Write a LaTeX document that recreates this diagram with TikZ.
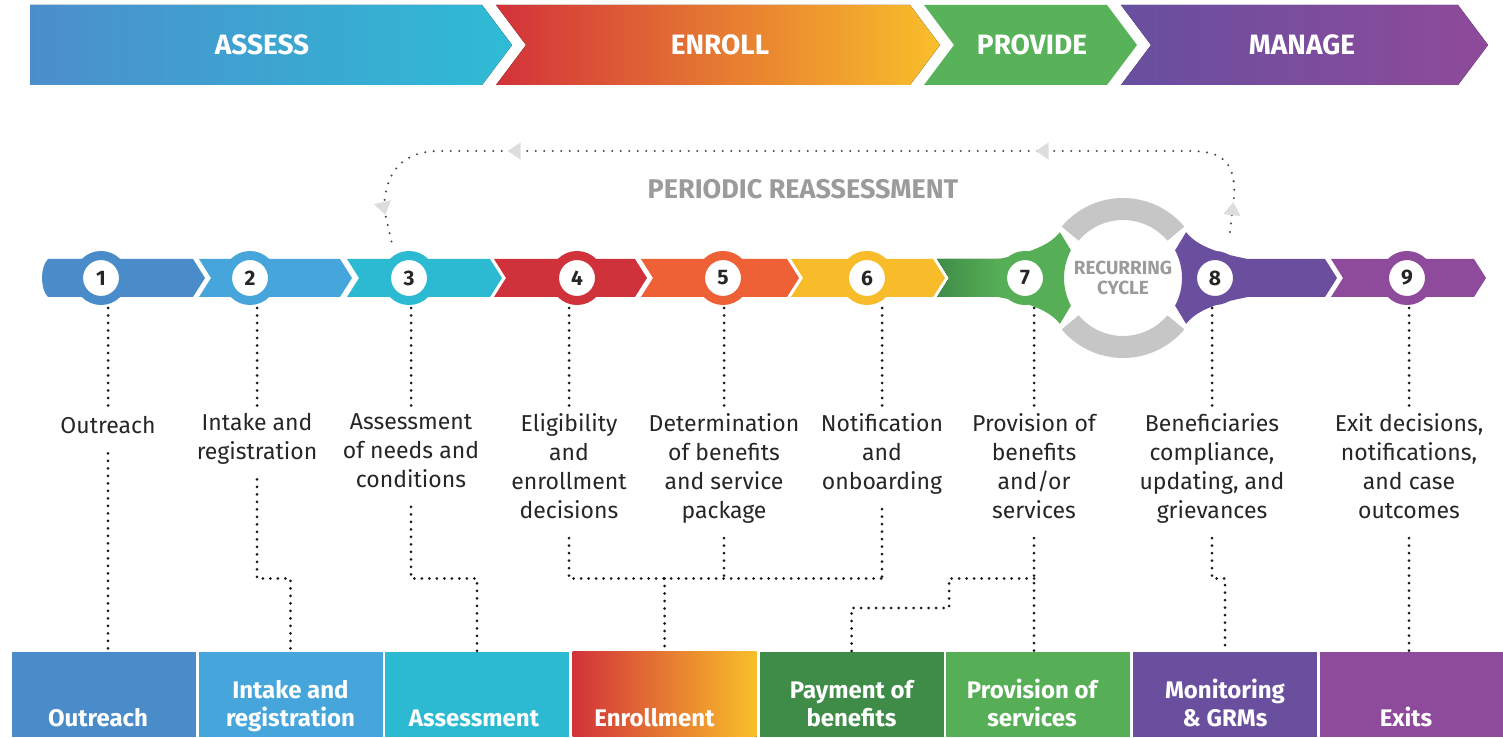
\documentclass[tikz,border=0pt]{standalone}
\usepackage{fontspec}
\setmainfont{Fira Sans}
\usetikzlibrary{calc,arrows.meta,decorations.markings}

\definecolor{assessl}{HTML}{4C8ECC}
\definecolor{assessr}{HTML}{2EBBD5}
\definecolor{enrollr}{HTML}{D2323A}
\definecolor{enrollo}{HTML}{EF7433}
\definecolor{enrolly}{HTML}{F9BF2A}
\definecolor{providec}{HTML}{58B25A}
\definecolor{managel}{HTML}{684F9F}
\definecolor{manager}{HTML}{8F4A9A}
\definecolor{stepone}{HTML}{4A8CCA}
\definecolor{steptwo}{HTML}{46A5DB}
\definecolor{stepthree}{HTML}{2CBAD3}
\definecolor{stepfour}{HTML}{CF323B}
\definecolor{stepfive}{HTML}{EE6035}
\definecolor{stepsix}{HTML}{F8BC2B}
\definecolor{stepsevenl}{HTML}{3F8D48}
\definecolor{stepseven}{HTML}{56AF56}
\definecolor{stepeight}{HTML}{6A4F9E}
\definecolor{stepnine}{HTML}{8E4A9B}
\definecolor{paydark}{HTML}{3F8C49}
\definecolor{cyclegray}{HTML}{C6C6C6}
\definecolor{textgray}{HTML}{9B9B9B}
\definecolor{tipgray}{HTML}{DDDDDD}
\definecolor{inkdark}{HTML}{262626}

\tikzset{
  phase/.style={font=\fontsize{28}{30}\selectfont\bfseries, text=white},
  stepring/.style={circle, fill=white, draw=#1, line width=9pt, minimum size=45pt,
    inner sep=0pt, font=\fontsize{21}{21}\selectfont\bfseries, text=inkdark},
  steplabel/.style={anchor=north, align=center, inner sep=0pt,
    font=\fontsize{23}{29}\selectfont, text=inkdark,
    execute at begin node=\strut, execute at end node=\strut},
  bottombox/.style={anchor=south, minimum width=184pt, minimum height=85pt,
    inner sep=0pt, fill=#1},
  boxtext/.style={anchor=south, align=center, inner sep=0pt,
    font=\fontsize{24}{28}\selectfont\bfseries, text=white,
    execute at end node=\strut},
  leader/.style={draw=black!90, line width=3pt, line cap=round,
    dash pattern=on 0pt off 7.5pt},
  loopline/.style={draw=black!70, line width=2.3pt, line cap=round,
    dash pattern=on 0pt off 8.5pt},
}

\begin{document}
\begin{tikzpicture}[x=1pt,y=1pt]
\useasboundingbox (0,0) rectangle (1503,737);

\def\bandtop{478}
\def\bandbot{440}
\def\bandmid{459}

% phases on top
\fill[left color=assessl, right color=assessr]
	(30,652) -- (482,652) -- (512,692) -- (482,732) -- (30,732) -- cycle;
\fill[left color=enrollr, middle color=enrollo, right color=enrolly]
	(496,652) -- (910,652) -- (940,692) -- (910,732) -- (496,732) -- (526,692) -- cycle;
\fill[providec]
	(924,652) -- (1107,652) -- (1137,692) -- (1107,732) -- (924,732) -- (954,692) -- cycle;
\fill[left color=managel, right color=manager]
	(1121,652) -- (1458,652) -- (1488,692) -- (1458,732) -- (1121,732) -- (1151,692) -- cycle;

\node[phase] (assess) at (262,692) {ASSESS};
\node[phase] (enroll) at (720,692) {ENROLL};
\node[phase] (provide) at (1032,692) {PROVIDE};
\node[phase] (manage) at (1302,692) {MANAGE};

% recurring cycle
\coordinate (C) at (1123,\bandmid);
\fill[cyclegray] ($(C)+(40:80)$) arc[start angle=40, end angle=140, radius=80]
	-- ($(C)+(140:58)$) arc[start angle=140, end angle=40, radius=58] -- cycle;
\fill[cyclegray] ($(C)+(220:80)$) arc[start angle=220, end angle=320, radius=80]
	-- ($(C)+(320:58)$) arc[start angle=320, end angle=220, radius=58] -- cycle;

% band of steps
\fill[stepone] (48,\bandbot) .. controls (40,448) and (40,470) .. (48,\bandtop)
	-- (193,\bandtop) -- (205,\bandmid) -- (193,\bandbot) -- cycle;
\fill[steptwo] (199,\bandbot) -- (211,\bandmid) -- (199,\bandtop)
	-- (340,\bandtop) -- (352,\bandmid) -- (340,\bandbot) -- cycle;
\fill[stepthree] (347,\bandbot) -- (359,\bandmid) -- (347,\bandtop)
	-- (490,\bandtop) -- (502,\bandmid) -- (490,\bandbot) -- cycle;
\fill[stepfour] (494,\bandbot) -- (506,\bandmid) -- (494,\bandtop)
	-- (635,\bandtop) -- (647,\bandmid) -- (635,\bandbot) -- cycle;
\fill[stepfive] (641,\bandbot) -- (653,\bandmid) -- (641,\bandtop)
	-- (787,\bandtop) -- (799,\bandmid) -- (787,\bandbot) -- cycle;
\fill[stepsix] (791,\bandbot) -- (803,\bandmid) -- (791,\bandtop)
	-- (933,\bandtop) -- (945,\bandmid) -- (933,\bandbot) -- cycle;
\fill[left color=stepsevenl, right color=stepseven]
	(937,\bandbot) -- (949,\bandmid) -- (937,\bandtop)
	-- (1000,\bandtop) -- (1000,\bandbot) -- cycle;
\fill[stepseven] (998,\bandtop) .. controls (1030,484) and (1050,492) .. ($(C)+(144:78)$)
	-- ($(C)+(152:59)$) arc[start angle=152, end angle=208, radius=59]
	-- ($(C)+(216:78)$) .. controls (1050,426) and (1030,434) .. (998,\bandbot) -- cycle;
\fill[stepeight] ($(C)+(36:78)$) .. controls (1196,492) and (1216,484) .. (1248,\bandtop)
	-- (1325,\bandtop) -- (1337,\bandmid) -- (1325,\bandbot) -- (1248,\bandbot)
	.. controls (1216,434) and (1196,426) .. ($(C)+(-36:78)$)
	-- ($(C)+(-28:59)$) arc[start angle=-28, end angle=28, radius=59] -- cycle;
\fill[stepnine] (1331,\bandbot) -- (1343,\bandmid) -- (1331,\bandtop)
	-- (1474,\bandtop) -- (1486,\bandmid) -- (1474,\bandbot) -- cycle;

\node[font=\fontsize{19}{20}\selectfont\bfseries, text=textgray, align=center]
	(recur) at (C) {RECURRING\\CYCLE};

% numbered rings
\node[stepring=stepone] (c1) at (101,\bandmid) {1};
\node[stepring=steptwo] (c2) at (250,\bandmid) {2};
\node[stepring=stepthree] (c3) at (409,\bandmid) {3};
\node[stepring=stepfour] (c4) at (577,\bandmid) {4};
\node[stepring=stepfive] (c5) at (723,\bandmid) {5};
\node[stepring=stepsix] (c6) at (867,\bandmid) {6};
\node[stepring=stepseven] (c7) at (1025,\bandmid) {7};
\node[stepring=stepeight] (c8) at (1215,\bandmid) {8};
\node[stepring=stepnine] (c9) at (1407,\bandmid) {9};

% periodic reassessment
\node[font=\fontsize{27}{27}\selectfont\bfseries, text=textgray] (reassess) at (803,548)
	{PERIODIC REASSESSMENT};
\draw[loopline, postaction={decorate}, decoration={markings,
	mark=at position 30pt with {\arrow[tipgray]{Triangle[width=17pt,length=13pt]}},
	mark=at position 265pt with {\arrow[tipgray]{Triangle[width=17pt,length=13pt]}},
	mark=at position 793pt with {\arrow[tipgray]{Triangle[width=17pt,length=13pt]}},
	mark=at position -34pt with {\arrow[tipgray]{Triangle[width=17pt,length=13pt]}}}]
	(1230,505) -- (1234,540) .. controls (1236,575) and (1222,586) .. (1190,586)
	-- (440,586) .. controls (402,586) and (385,565) .. (384,528) -- (393,489);

% step labels
\node[steplabel] (l1) at (108,324) {Outreach};
\node[steplabel] (l2) at (257,324) {Intake and\\registration};
\node[steplabel] (l3) at (411,324) {Assessment\\of needs and\\conditions};
\node[steplabel] (l4) at (569,324) {Eligibility\\and\\enrollment\\decisions};
\node[steplabel] (l5) at (724,324) {Determination\\of benefits\\and service\\package};
\node[steplabel] (l6) at (882,324) {Notification\\and\\onboarding};
\node[steplabel] (l7) at (1034,324) {Provision of\\benefits\\and/or\\services};
\node[steplabel] (l8) at (1212,324) {Beneficiaries\\compliance,\\updating, and\\grievances};
\node[steplabel] (l9) at (1409,324) {Exit decisions,\\notifications,\\and case\\outcomes};

% bottom boxes
\node[bottombox=stepone] (b1) at (104,0) {};
\node[bottombox=steptwo] (b2) at (290.5,0) {};
\node[bottombox=stepthree] (b3) at (477,0) {};
\node[bottombox, left color=enrollr, middle color=enrollo, right color=enrolly] (b4) at (664.5,0) {};
\node[bottombox=paydark] (b5) at (851.5,0) {};
\node[bottombox=stepseven] (b6) at (1038,0) {};
\node[bottombox=stepeight] (b7) at (1225,0) {};
\node[bottombox=stepnine] (b8) at (1412,0) {};

\node[boxtext] (t1) at ([xshift=-6,yshift=2]b1.south) {Outreach};
\node[boxtext] (t2) at ([yshift=2]b2.south) {Intake and\\registration};
\node[boxtext] (t3) at ([xshift=-3,yshift=2]b3.south) {Assessment};
\node[boxtext] (t4) at ([xshift=-10,yshift=2]b4.south) {Enrollment};
\node[boxtext] (t5) at ([yshift=2]b5.south) {Payment of\\benefits};
\node[boxtext] (t6) at ([xshift=-6,yshift=2]b6.south) {Provision of\\services};
\node[boxtext] (t7) at ([yshift=2]b7.south) {Monitoring\\\&~GRMs};
\node[boxtext] (t8) at ([xshift=-6,yshift=2]b8.south) {Exits};

% dotted leaders, rings to labels
\draw[leader, shorten <=3pt, shorten >=5pt] (l1.north |- c1.south) -- (l1.north);
\draw[leader, shorten <=3pt, shorten >=5pt] (l2.north |- c2.south) -- (l2.north);
\draw[leader, shorten <=3pt, shorten >=5pt] (l3.north |- c3.south) -- (l3.north);
\draw[leader, shorten <=3pt, shorten >=5pt] (l4.north |- c4.south) -- (l4.north);
\draw[leader, shorten <=3pt, shorten >=5pt] (l5.north |- c5.south) -- (l5.north);
\draw[leader, shorten <=3pt, shorten >=5pt] (l6.north |- c6.south) -- (l6.north);
\draw[leader, shorten <=3pt, shorten >=5pt] (l7.north |- c7.south) -- (l7.north);
\draw[leader, shorten <=3pt, shorten >=5pt] (l8.north |- c8.south) -- (l8.north);
\draw[leader, shorten <=3pt, shorten >=5pt] (l9.north |- c9.south) -- (l9.north);

% dotted leaders, labels to boxes
\coordinate (jog) at (0,158.5);
\coordinate (paystep) at (949,129);
\draw[leader, shorten <=11pt] (l1.south) -- (l1.south |- b1.north);
\draw[leader, shorten <=11pt] (l2.south) -- (l2.south |- jog) -| (b2.north);
\draw[leader, shorten <=11pt] (l3.south) -- (l3.south |- jog) -| (b3.north);
\draw[leader, shorten <=11pt] (l4.south) -- (l4.south |- jog) -- (l6.south |- jog);
\draw[leader, shorten <=11pt] (l6.south) -- (l6.south |- jog);
\draw[leader, shorten <=11pt] (l5.south) -- (l5.south |- jog);
\draw[leader] (b4.north |- jog) -- (b4.north);
\draw[leader, shorten <=11pt] (l7.south) -- (l7.south |- b6.north);
\draw[leader] (l7.south |- jog) -| (paystep) -| (b5.north);
\draw[leader, shorten <=11pt] (l8.south) -- (l8.south |- jog) -| (b7.north);
\draw[leader, shorten <=11pt] (l9.south) -- (l9.south |- b8.north);

\end{tikzpicture}
\end{document}
